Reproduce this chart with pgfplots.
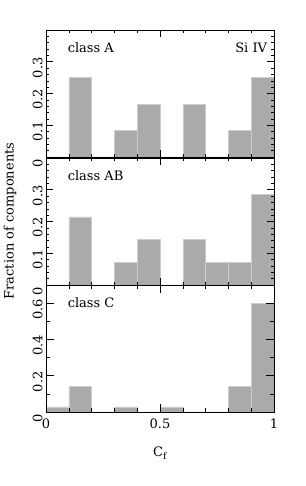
\documentclass[border=0pt]{standalone}
\usepackage{fontspec}
\setmainfont{DejaVu Serif}
\usepackage{pgfplots}
\pgfplotsset{compat=1.18}
\definecolor{bargray}{RGB}{170,170,170}
\definecolor{baredge}{RGB}{205,205,205}
\newcommand{\pf}{\fontsize{13}{15}\selectfont}
\begin{document}
\begin{tikzpicture}[x=1pt,y=1pt]
\path[use as bounding box] (0,0) rectangle (305,486);
\pgfplotsset{
  panel/.style={
    scale only axis, width=228pt, height=127pt,
    xmin=0, xmax=1,
    xtick={0,0.5,1}, minor xtick={0.1,0.2,0.3,0.4,0.6,0.7,0.8,0.9},
    tick align=inside, xtick pos=both, ytick pos=both,
    major tick length=8pt, minor tick length=4pt,
    every tick/.style={black, line width=0.5pt},
    axis line style={line width=0.7pt},
    /pgf/number format/assume math mode=true,
    yticklabel style={rotate=90, anchor=south, font=\pf, xshift=-6pt},
    xticklabel style={font=\pf},
    anchor=south west,
    axis on top,
  },
  bars/.style={ybar interval, fill=bargray, draw=baredge, line width=0.6pt},
}
% panel A
\begin{axis}[panel, at={(46pt,329pt)}, ymin=0, ymax=0.4,
  ytick={0,0.1,0.2,0.3}, minor ytick={0.02,0.04,0.06,0.08,0.12,0.14,0.16,0.18,0.22,0.24,0.26,0.28,0.32,0.34,0.36,0.38},
  xticklabels={}, minor tick length=3pt, major tick length=7pt]
\addplot[bars] coordinates {(0,0) (0.1,0.25) (0.2,0) (0.3,0.0833) (0.4,0.1667) (0.5,0) (0.6,0.1667) (0.7,0) (0.8,0.0833) (0.9,0.25) (1.0,0)};
\node[anchor=west, font=\pf] at (axis cs:0.08,0.345) {class A};
\node[anchor=east, font=\pf] at (axis cs:0.985,0.345) {Si IV};
\end{axis}
% panel AB
\begin{axis}[panel, at={(46pt,201pt)}, ymin=0, ymax=0.4,
  ytick={0,0.1,0.2,0.3}, minor ytick={0.02,0.04,0.06,0.08,0.12,0.14,0.16,0.18,0.22,0.24,0.26,0.28,0.32,0.34,0.36,0.38},
  xticklabels={}, minor tick length=3pt, major tick length=7pt]
\addplot[bars] coordinates {(0,0) (0.1,0.2143) (0.2,0) (0.3,0.0714) (0.4,0.1429) (0.5,0) (0.6,0.1429) (0.7,0.0714) (0.8,0.0714) (0.9,0.2857) (1.0,0)};
\node[anchor=west, font=\pf] at (axis cs:0.08,0.345) {class AB};
\end{axis}
% panel C
\begin{axis}[panel, at={(46pt,74pt)}, ymin=0, ymax=0.7,
  ytick={0,0.2,0.4,0.6}, minor ytick={0.1,0.3,0.5},
  xticklabel style={yshift=-3pt}]
\addplot[bars] coordinates {(0,0.0286) (0.1,0.1429) (0.2,0) (0.3,0.0286) (0.4,0) (0.5,0.0286) (0.6,0) (0.7,0) (0.8,0.1429) (0.9,0.6) (1.0,0)};
\node[anchor=west, font=\pf] at (axis cs:0.08,0.605) {class C};
\end{axis}
\node[rotate=90, font=\pf] at (10,265) {Fraction of components};
\node[font=\pf] at (160,33) {C\textsubscript{f}};
\end{tikzpicture}
\end{document}
